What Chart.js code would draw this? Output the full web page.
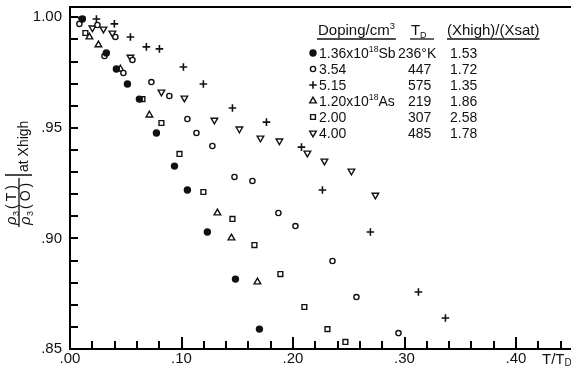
<!DOCTYPE html>
<html lang="en">
<head>
<meta charset="UTF-8">
<title>ρ3(T)/ρ3(0) at Xhigh vs T/TD</title>
<style>
  * { margin: 0; padding: 0; box-sizing: border-box; }
  body { background: #fff; width: 571px; height: 366px; overflow: hidden; }
  canvas { display: block; }
</style>
</head>
<body>
<canvas id="rhoChart" width="571" height="366"></canvas>
<script src="https://cdn.jsdelivr.net/npm/chart.js"></script>
<script>
// [T/TD, rho3(T)/rho3(0)] for each sample
const sb136 = [[0.0111,0.9992],[0.0326,0.9839],[0.0416,0.9766],[0.0515,0.9698],[0.0622,0.9630],
               [0.0775,0.9477],[0.0937,0.9327],[0.1053,0.9219],[0.1232,0.9029],[0.1484,0.8816],
               [0.1699,0.8590]];
const sb354 = [[0.0084,0.9970],[0.0246,0.9965],[0.0407,0.9911],[0.0309,0.9825],[0.0560,0.9807],
               [0.0479,0.9748],[0.0730,0.9707],[0.0891,0.9644],[0.1053,0.9540],[0.1134,0.9477],
               [0.1277,0.9418],[0.1475,0.9278],[0.1636,0.9260],[0.1869,0.9115],[0.2022,0.9056],
               [0.2354,0.8898],[0.2569,0.8735],[0.2946,0.8572]];
const sb515 = [[0.0237,0.9992],[0.0398,0.9970],[0.0542,0.9911],[0.0685,0.9866],[0.0802,0.9857],
               [0.1017,0.9775],[0.1196,0.9698],[0.1457,0.9590],[0.1762,0.9526],[0.2076,0.9413],
               [0.2264,0.9219],[0.2694,0.9029],[0.3125,0.8758],[0.3367,0.8640]];
const as120 = [[0.0174,0.9911],[0.0255,0.9875],[0.0452,0.9766],[0.0712,0.9558],[0.1322,0.9115],
               [0.1448,0.9002],[0.1681,0.8803]];
const as200 = [[0.0138,0.9929],[0.0650,0.9630],[0.0820,0.9522],[0.0982,0.9382],[0.1196,0.9210],
               [0.1457,0.9088],[0.1654,0.8970],[0.1887,0.8839],[0.2102,0.8690],[0.2309,0.8590],
               [0.2470,0.8532]];
const as400 = [[0.0102,0.9992],[0.0201,0.9952],[0.0300,0.9947],[0.0380,0.9929],[0.0542,0.9820],
               [0.0820,0.9662],[0.1026,0.9635],[0.1295,0.9535],[0.1519,0.9495],[0.1708,0.9454],
               [0.1878,0.9441],[0.2129,0.9386],[0.2282,0.9350],[0.2524,0.9305],[0.2739,0.9196]];

const xTicks = [0, 0.02, 0.04, 0.06, 0.08, 0.10, 0.12, 0.14, 0.16, 0.18, 0.20, 0.22,
                0.24, 0.26, 0.28, 0.30, 0.32, 0.34, 0.36, 0.38, 0.40, 0.42, 0.44];
const xLabelled = [0, 0.10, 0.20, 0.30, 0.40];
const yTicks = [0.85, 0.86, 0.87, 0.88, 0.89, 0.90, 0.91, 0.92, 0.93, 0.94, 0.95,
                0.96, 0.97, 0.98, 0.99, 1.00];
const yLabelled = [0.85, 0.90, 0.95, 1.00];

// legend table text
const dopingText = [['1.36x10', '18', 'Sb'], ['3.54'], ['5.15'], ['1.20x10', '18', 'As'], ['2.00'], ['4.00']];
const debyeTemps = ['236°K', '447', '575', '219', '307', '485'];
const fieldRatios = ['1.53', '1.72', '1.35', '1.86', '2.58', '1.78'];

const FONT = '"Liberation Sans", Arial, sans-serif';
const ink = '#111';

function series(data, style) {
  return Object.assign({
    data: data.map(p => ({ x: p[0], y: p[1] })),
    borderColor: ink,
    backgroundColor: '#fff',
    borderWidth: 1.4,
    clip: false
  }, style);
}

const datasets = [
  series(sb136, { pointStyle: 'circle', pointRadius: 3, backgroundColor: ink }),
  series(sb354, { pointStyle: 'circle', pointRadius: 2.6 }),
  series(sb515, { pointStyle: 'cross', pointRadius: 3.8, borderWidth: 1.6 }),
  series(as120, { pointStyle: 'triangle', pointRadius: 3.8 }),
  series(as200, { pointStyle: 'rect', pointRadius: 3.4 }),
  series(as400, { pointStyle: 'triangle', pointRadius: 3.8, pointRotation: 180 })
];

const isAmong = (list, v) => list.some(t => Math.abs(t - v) < 1e-6);
const fmt = v => v.toFixed(2).replace(/^0/, '');

// axis lines run to the canvas edge; ticks point into the plot
function drawFrame(chart) {
  const ctx = chart.ctx;
  const a = chart.chartArea;
  const xs = chart.scales.x;
  const ys = chart.scales.y;
  ctx.save();
  ctx.strokeStyle = '#000';
  ctx.lineWidth = 2;
  ctx.beginPath();
  ctx.moveTo(chart.width, a.top + 1);
  ctx.lineTo(a.left, a.top + 1);
  ctx.lineTo(a.left, a.bottom);
  ctx.lineTo(chart.width, a.bottom);
  ctx.stroke();
  for (const v of xTicks) {
    if (v === 0) continue;
    const px = Math.round(xs.getPixelForValue(v));
    const len = isAmong(xLabelled, v) ? 12 : 8;
    ctx.beginPath();
    ctx.moveTo(px, a.bottom);
    ctx.lineTo(px, a.bottom - len);
    ctx.stroke();
  }
  for (const v of yTicks) {
    if (v === 0.85) continue;
    const py = Math.round(ys.getPixelForValue(v));
    ctx.beginPath();
    ctx.moveTo(a.left, py);
    ctx.lineTo(a.left + 8, py);
    ctx.stroke();
  }
  ctx.restore();
}

function drawAxisNames(ctx) {
  ctx.save();
  ctx.fillStyle = ink;
  ctx.strokeStyle = ink;
  ctx.textBaseline = 'alphabetic';

  // x axis name T/TD
  ctx.font = '15px ' + FONT;
  ctx.fillText('T/T', 542, 364);
  const w = ctx.measureText('T/T').width;
  ctx.font = '10px ' + FONT;
  ctx.fillText('D', 542 + w, 366);

  // y axis name, rotated: local x runs up the page
  ctx.translate(0, 228);
  ctx.rotate(-Math.PI / 2);
  ctx.font = 'italic 15px ' + FONT;
  ctx.fillText('ρ', 3, 16);
  ctx.fillText('ρ', 3, 30);
  ctx.font = '9px ' + FONT;
  ctx.fillText('3', 12, 19);
  ctx.fillText('3', 12, 33);
  ctx.font = '14px ' + FONT;
  ctx.letterSpacing = '3px';
  ctx.fillText('(T)', 19, 16);
  ctx.fillText('(O)', 19, 30);
  ctx.letterSpacing = '0px';
  ctx.lineWidth = 1.3;
  ctx.beginPath();
  ctx.moveTo(1, 19);
  ctx.lineTo(50, 19);
  ctx.moveTo(53, 5);
  ctx.lineTo(53, 32);
  ctx.stroke();
  ctx.font = '14px ' + FONT;
  ctx.fillText('at Xhigh', 56, 28);
  ctx.restore();
}

function drawRuns(ctx, runs, x, base, size) {
  runs.forEach((t, i) => {
    const sup = i === 1;
    ctx.font = (sup ? size * 0.62 : size) + 'px ' + FONT;
    ctx.fillText(t, x, sup ? base - size * 0.42 : base);
    x += ctx.measureText(t).width;
  });
  return x;
}

function drawLegend(ctx) {
  const size = 14;
  ctx.save();
  ctx.fillStyle = ink;
  ctx.strokeStyle = ink;
  ctx.textBaseline = 'alphabetic';
  const hb = 35;
  let end = drawRuns(ctx, ['Doping/cm', '3'], 318, hb, 15);
  ctx.lineWidth = 1.3;
  ctx.beginPath();
  ctx.moveTo(317, hb + 4); ctx.lineTo(end + 1, hb + 4);
  ctx.stroke();
  ctx.font = '15px ' + FONT;
  ctx.fillText('T', 411, hb);
  ctx.font = '9px ' + FONT;
  ctx.fillText('D', 420, hb + 3);
  ctx.beginPath();
  ctx.moveTo(410, hb + 4); ctx.lineTo(434, hb + 4);
  ctx.stroke();
  ctx.font = '15px ' + FONT;
  ctx.fillText('(Xhigh)/(Xsat)', 447, hb);
  end = 447 + ctx.measureText('(Xhigh)/(Xsat)').width;
  ctx.beginPath();
  ctx.moveTo(447, hb + 4); ctx.lineTo(end, hb + 4);
  ctx.stroke();

  dopingText.forEach((runs, i) => {
    const cy = 53 + 16 * i;
    const ds = datasets[i];
    ctx.fillStyle = ds.backgroundColor;
    ctx.lineWidth = ds.borderWidth;
    Chart.helpers.drawPoint(ctx, {
      pointStyle: ds.pointStyle,
      radius: ds.pointRadius,
      rotation: ds.pointRotation || 0,
      borderWidth: ds.borderWidth
    }, 313, cy);
    ctx.fillStyle = ink;
    const base = cy + 5;
    drawRuns(ctx, runs, 319, base, size);
    ctx.font = size + 'px ' + FONT;
    ctx.fillText(debyeTemps[i], i === 0 ? 398 : 408, base);
    ctx.fillText(fieldRatios[i], 450, base);
  });
  ctx.restore();
}

const decorPlugin = {
  id: 'decor',
  afterDraw(chart) {
    drawFrame(chart);
    drawAxisNames(chart.ctx);
    drawLegend(chart.ctx);
  }
};

new Chart(document.getElementById('rhoChart'), {
  type: 'scatter',
  data: { datasets },
  options: {
    responsive: false,
    animation: false,
    devicePixelRatio: 1,
    layout: { padding: { top: 6, right: 0, left: 0, bottom: 0 } },
    plugins: { legend: { display: false }, tooltip: { enabled: false } },
    scales: {
      x: {
        type: 'linear',
        min: 0,
        max: 0.4443,
        border: { display: false },
        grid: { display: false, drawTicks: false },
        afterBuildTicks: s => { s.ticks = xTicks.map(v => ({ value: v })); },
        afterFit: s => { s.height = 17; s.paddingLeft = 0; s.paddingRight = 0; },
        ticks: {
          autoSkip: false,
          maxRotation: 0,
          padding: 1,
          color: ink,
          font: { family: FONT, size: 15 },
          callback: v => isAmong(xLabelled, v) ? fmt(v) : ''
        }
      },
      y: {
        type: 'linear',
        min: 0.85,
        max: 1.0051,
        border: { display: false },
        grid: { display: false, drawTicks: false },
        afterBuildTicks: s => { s.ticks = yTicks.map(v => ({ value: v })); },
        afterFit: s => { s.width = 70; s.paddingTop = 0; s.paddingBottom = 0; },
        ticks: {
          autoSkip: false,
          padding: 8,
          color: ink,
          font: { family: FONT, size: 15 },
          callback: v => isAmong(yLabelled, v) ? fmt(v) : ''
        }
      }
    }
  },
  plugins: [decorPlugin]
});
</script>
</body>
</html>
